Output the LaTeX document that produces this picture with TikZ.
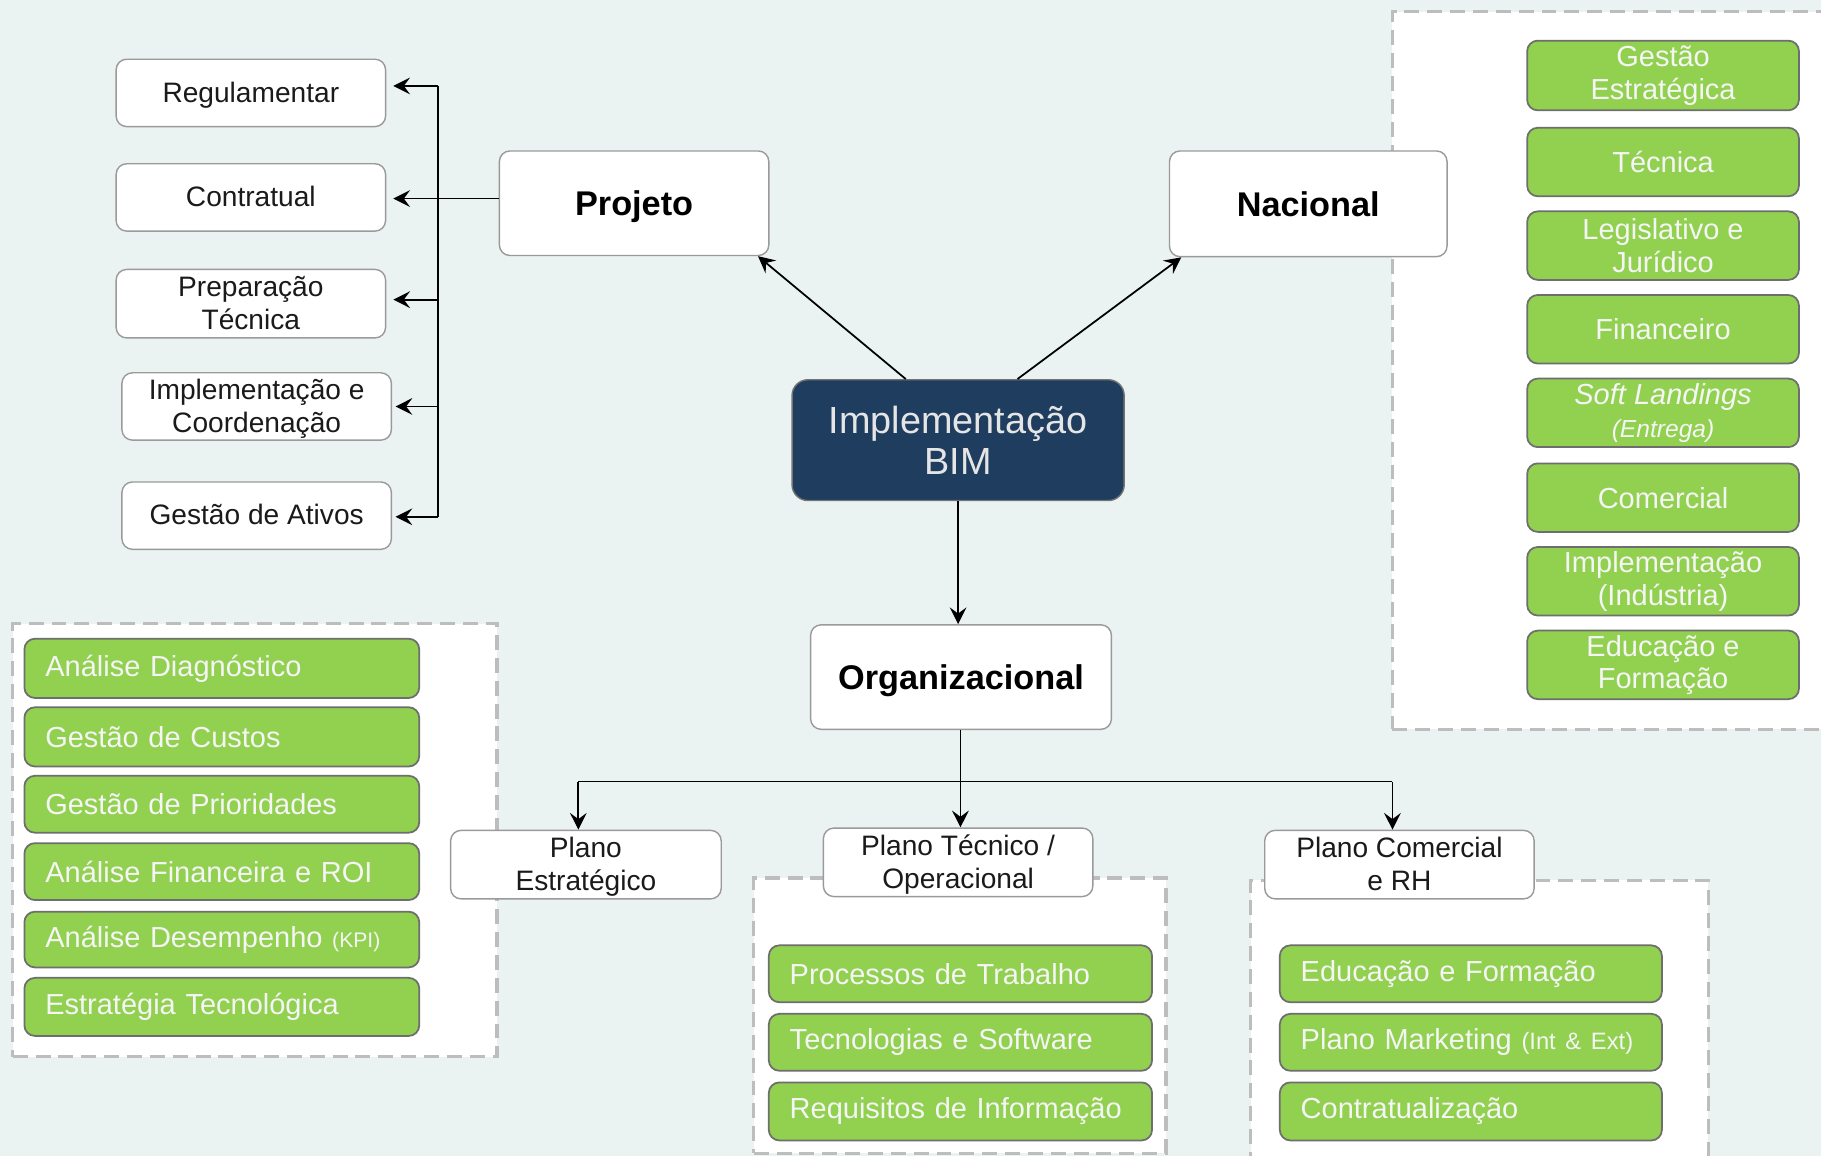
\documentclass[tikz,border=0pt]{standalone}
\usepackage{fontspec}
\setmainfont{Liberation Sans}
\usetikzlibrary{arrows.meta,calc}
\definecolor{bgc}{HTML}{EBF2F2}
\definecolor{grn}{HTML}{92D050}
\definecolor{grnb}{HTML}{6E6E6E}
\definecolor{navy}{HTML}{1E3D5F}
\definecolor{dsh}{HTML}{BDBDBD}
\definecolor{wbd}{HTML}{9A9A9A}
\definecolor{txt}{HTML}{1A1A1A}
\def\U{0.023227cm}
\newcommand\bx[7]{\node[#6, minimum width={(#4-#2)*\U}, minimum height={(#5-#3)*\U}] (#1) at ({(#2+#4)/2},{(#3+#5)/2}) {#7};}
\newcommand\gl[6]{\node[gbox, align=left, inner xsep={18*\U}, text width={(#4-#2-36)*\U}, minimum height={(#5-#3)*\U}] (#1) at ({(#2+#4)/2},{(#3+#5)/2}) {#6};}
\tikzset{
  wbox/.style={draw=wbd, line width=0.8pt, fill=white, rounded corners=6pt, inner sep=0pt, align=center, font=\fontsize{16}{18.5}\selectfont, text=txt, text depth=1pt},
  bbox/.style={wbox, font=\bfseries\fontsize{19.5}{22}\selectfont, text=black, text depth=0pt},
  gbox/.style={draw=grnb, line width=1pt, fill=grn, rounded corners=6pt, inner sep=0pt, align=center, font=\fontsize{16.5}{18.5}\selectfont, text=white!96!black},
  core/.style={fill=navy, draw=black!55, line width=0.8pt, rounded corners=9pt, text=white!90!black, font=\fontsize{21.5}{23}\selectfont, align=center, inner sep=0pt},
  cont/.style={draw=dsh, line width=1.8pt, dash pattern=on 8.5pt off 4.5pt, fill=white, inner sep=0pt},
  arr/.style={-{Stealth[length=9.5pt,width=9.5pt,inset=3.5pt]}, line width=1pt, black},
  ln/.style={line width=1pt, black}
}
\begin{document}
\begin{tikzpicture}[x=\U, y=-\U]
\useasboundingbox (0,0) rectangle (1568,995);
\clip (0,0) rectangle (1568,995);
\fill[bgc] (0,0) rectangle (1568,995);

% containers
\bx{cL}{11}{537}{428}{910}{cont}{}
\bx{cM}{649}{756}{1004}{993}{cont}{}
\bx{cR}{1077}{758}{1471}{1015}{cont}{}
\bx{cT}{1199}{10}{1600}{628}{cont}{}

% left white boxes
\bx{reg}{100}{51}{332}{109}{wbox}{Regulamentar}
\bx{con}{100}{141}{332}{199}{wbox}{Contratual}
\bx{prep}{100}{232}{332}{291}{wbox}{Preparação\\Técnica}
\bx{impc}{105}{321}{337}{379}{wbox}{Implementação e\\Coordenação}
\bx{gat}{105}{415}{337}{473}{wbox}{Gestão de Ativos}

% main nodes
\bx{proj}{430}{130}{662}{220}{bbox}{Projeto}
\bx{nac}{1007}{130}{1246}{221}{bbox}{Nacional}
\bx{bim}{682}{327}{968}{431}{core}{Implementação\\BIM}
\bx{org}{698}{538}{957}{628}{bbox}{Organizacional}

% plans
\bx{pe}{388}{715}{621}{774}{wbox}{Plano\\Estratégico}
\bx{pt}{709}{713}{941}{772}{wbox}{Plano Técnico /\\Operacional}
\bx{pc}{1089}{715}{1321}{774}{wbox}{Plano Comercial\\e RH}

% top right green
\bx{n1}{1315}{35}{1549}{95}{gbox}{Gestão\\Estratégica}
\bx{n2}{1315}{110}{1549}{169}{gbox}{Técnica}
\bx{n3}{1315}{182}{1549}{241}{gbox}{Legislativo e\\Jurídico}
\bx{n4}{1315}{254}{1549}{313}{gbox}{Financeiro}
\bx{n5}{1315}{326}{1549}{385}{gbox}{\textit{Soft Landings}\\{\fontsize{14}{16}\selectfont\itshape (Entrega)}}
\bx{n6}{1315}{399}{1549}{458}{gbox}{Comercial}
\bx{n7}{1315}{471}{1549}{530}{gbox}{Implementação\\(Indústria)}
\bx{n8}{1315}{543}{1549}{602}{gbox}{Educação e\\Formação}

% left green
\gl{l1}{21}{550}{361}{601}{Análise Diagnóstico}
\gl{l2}{21}{609}{361}{660}{Gestão de Custos}
\gl{l3}{21}{668}{361}{717}{Gestão de Prioridades}
\gl{l4}{21}{726}{361}{775}{Análise Financeira e ROI}
\gl{l5}{21}{785}{361}{833}{Análise Desempenho {\fontsize{12}{13}\selectfont (KPI)}}
\gl{l6}{21}{842}{361}{892}{Estratégia Tecnológica}

% middle green
\gl{m1}{662}{814}{992}{863}{Processos de Trabalho}
\gl{m2}{662}{873}{992}{922}{Tecnologias e Software}
\gl{m3}{662}{932}{992}{982}{Requisitos de Informação}

% right green
\gl{r1}{1102}{814}{1431}{863}{Educação e Formação}
\gl{r2}{1102}{873}{1431}{922}{Plano Marketing {\fontsize{13.5}{14}\selectfont (Int \& Ext)}}
\gl{r3}{1102}{932}{1431}{982}{Contratualização}

% Projeto bracket
\coordinate (bj) at (377,171);
\coordinate (bt) at (377,74);
\coordinate (bb) at (377,445);
\coordinate (b3) at (377,258);
\coordinate (b4) at (377,350);
\draw[ln] (bj -| proj.west) -- (bj);
\draw[ln] (bt) -- (bb);
\draw[arr, shorten >=4pt] (bt) -- (bt -| reg.east);
\draw[arr, shorten >=4pt] (bj) -- (bj -| con.east);
\draw[arr, shorten >=4pt] (b3) -- (b3 -| prep.east);
\draw[arr, shorten >=2pt] (b4) -- (b4 -| impc.east);
\draw[arr, shorten >=2pt] (bb) -- (bb -| gat.east);

% central arrows
\draw[arr] ($(bim.north west)!0.343!(bim.north east)$) -- ([xshift=-0.23cm]proj.south east);
\draw[arr] ($(bim.north west)!0.678!(bim.north east)$) -- ([xshift=0.25cm]nac.south west);
\draw[arr] (bim.south) -- (bim.south |- org.north);

% Organizacional branches
\coordinate (oj) at (827,673);
\coordinate (ol) at (498,673);
\coordinate (orr) at (1199,673);
\draw[ln] (oj |- org.south) -- (oj);
\draw[ln] (ol) -- (orr);
\draw[arr] (ol) -- (ol |- pe.north);
\draw[arr] (oj) -- (oj |- pt.north);
\draw[arr] (orr) -- (orr |- pc.north);
\end{tikzpicture}
\end{document}
